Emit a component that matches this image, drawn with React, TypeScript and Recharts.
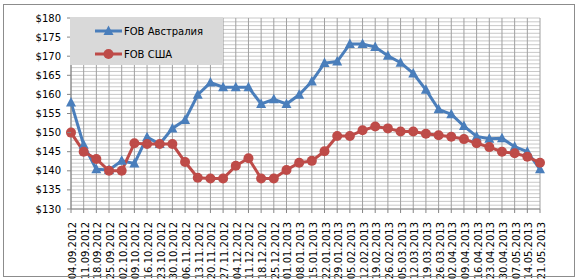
import React from "react";
import {
  LineChart,
  Line,
  XAxis,
  YAxis,
  CartesianGrid,
  Legend,
} from "recharts";

const dates = [
  "04.09.2012", "11.09.2012", "18.09.2012", "25.09.2012", "02.10.2012",
  "09.10.2012", "16.10.2012", "23.10.2012", "30.10.2012", "06.11.2012",
  "13.11.2012", "20.11.2012", "27.11.2012", "04.12.2012", "11.12.2012",
  "18.12.2012", "25.12.2012", "01.01.2013", "08.01.2013", "15.01.2013",
  "22.01.2013", "29.01.2013", "05.02.2013", "12.02.2013", "19.02.2013",
  "26.02.2013", "05.03.2013", "12.03.2013", "19.03.2013", "26.03.2013",
  "02.04.2013", "09.04.2013", "16.04.2013", "23.04.2013", "30.04.2013",
  "07.05.2013", "14.05.2013", "21.05.2013",
];

const australia = [
  157.9, 146.8, 140.4, 140.2, 142.6, 141.9, 148.8, 147.0, 151.1, 153.3,
  159.9, 163.1, 161.9, 161.9, 161.9, 157.5, 158.7, 157.5, 159.9, 163.4,
  168.2, 168.6, 173.2, 173.2, 172.4, 170.1, 168.3, 165.5, 161.2, 156.1,
  154.8, 151.7, 149.0, 148.4, 148.5, 146.3, 145.0, 140.4,
];

const usa = [
  150.0, 145.0, 143.1, 140.0, 140.0, 147.2, 147.0, 147.0, 147.0, 142.3,
  138.2, 138.0, 138.0, 141.3, 143.3, 138.0, 138.0, 140.2, 142.1, 142.6,
  145.1, 149.1, 149.1, 150.6, 151.6, 151.1, 150.3, 150.3, 149.7, 149.3,
  148.9, 148.3, 147.2, 146.2, 145.0, 144.6, 143.7, 142.1,
];

// every dollar gets a gridline, every 5 gets a label
const yTicks = Array.from({ length: 51 }, (_, i) => 130 + i);

const seriesNames = ["FOB Австралия", "FOB США"];
const BLUE = "#4A7EBB";
const RED = "#BE4B48";
const FONT = "'DejaVu Sans', Verdana, sans-serif";

const chartData = dates.map((d, i) => ({
  date: d,
  aus: australia[i],
  usa: usa[i],
}));

const Triangle = (props: any) => {
  const { cx, cy } = props;
  if (cx == null || cy == null) return null;
  return (
    <polygon
      points={`${cx},${cy - 5.5} ${cx - 5},${cy + 4} ${cx + 5},${cy + 4}`}
      fill={BLUE}
    />
  );
};

const Circle = (props: any) => {
  const { cx, cy } = props;
  if (cx == null || cy == null) return null;
  return <circle cx={cx} cy={cy} r={5} fill={RED} />;
};

const DateTick = (props: any) => {
  const { x, y, payload } = props;
  return (
    <g transform={`translate(${x},${y + 7})`}>
      <text
        transform="rotate(-90)"
        textAnchor="end"
        dy="0.5em"
        fontSize={10}
        fontFamily={FONT}
        fill="#000"
      >
        {payload.value}
      </text>
    </g>
  );
};

const PriceTick = (props: any) => {
  const { x, y, payload } = props;
  if (payload.value % 5 !== 0) return <g />;
  return (
    <g>
      <line x1={x + 6} y1={y} x2={x + 10} y2={y} stroke="#868686" />
      <text
        x={x}
        y={y}
        textAnchor="end"
        dy="0.35em"
        fontSize={10}
        fontFamily={FONT}
        fill="#000"
      >
        {`$${payload.value}`}
      </text>
    </g>
  );
};

const LegendBox = () => (
  <div
    style={{
      width: 153,
      height: 48,
      background: "#D9D9D9",
      fontFamily: FONT,
      fontSize: 10,
      color: "#000",
      position: "relative",
    }}
  >
    {seriesNames.map((name, idx) => (
      <div
        key={name}
        style={{
          position: "absolute",
          left: 25,
          top: idx === 0 ? 7 : 30,
          height: 14,
          display: "flex",
          alignItems: "center",
        }}
      >
        <svg width={28} height={14}>
          <line
            x1={0}
            y1={7}
            x2={27}
            y2={7}
            stroke={idx === 0 ? BLUE : RED}
            strokeWidth={3}
          />
          {idx === 0 ? (
            <polygon points="13.5,1.5 8.5,11 18.5,11" fill={BLUE} />
          ) : (
            <circle cx={13.5} cy={7} r={5} fill={RED} />
          )}
        </svg>
        <span style={{ marginLeft: 1, whiteSpace: "nowrap" }}>{name}</span>
      </div>
    ))}
  </div>
);

export default function App() {
  return (
    <div
      style={{
        position: "absolute",
        left: 0,
        top: 0,
        width: 579,
        height: 280,
        background: "#fff",
      }}
    >
      <LineChart
        width={579}
        height={280}
        data={chartData}
        margin={{ top: 18, right: 39, left: 0, bottom: 0 }}
      >
        <CartesianGrid vertical={false} stroke="#C8C8C8" strokeWidth={1} />
        <CartesianGrid horizontal={false} stroke="#A0A0A0" strokeWidth={1} />
        <XAxis
          dataKey="date"
          interval={0}
          height={71}
          tick={<DateTick />}
          tickSize={4}
          stroke="#868686"
          axisLine={{ stroke: "#868686" }}
        />
        <YAxis
          domain={[130, 180]}
          ticks={yTicks}
          interval={0}
          width={71}
          tickSize={4}
          tickMargin={6}
          tickLine={false}
          tick={<PriceTick />}
          stroke="#868686"
        />
        <Legend
          layout="horizontal"
          verticalAlign="middle"
          align="center"
          wrapperStyle={{ left: 70, top: 17, width: 153, height: 48 }}
          content={() => <LegendBox />}
        />
        <Line
          dataKey="aus"
          name={seriesNames[0]}
          stroke={BLUE}
          strokeWidth={3}
          dot={<Triangle />}
          isAnimationActive={false}
        />
        <Line
          dataKey="usa"
          name={seriesNames[1]}
          stroke={RED}
          strokeWidth={3}
          dot={<Circle />}
          isAnimationActive={false}
        />
      </LineChart>
      <div
        style={{
          position: "absolute",
          left: 3,
          top: 4,
          width: 570,
          height: 271,
          border: "1px solid #8C8C8C",
          pointerEvents: "none",
        }}
      />
    </div>
  );
}
